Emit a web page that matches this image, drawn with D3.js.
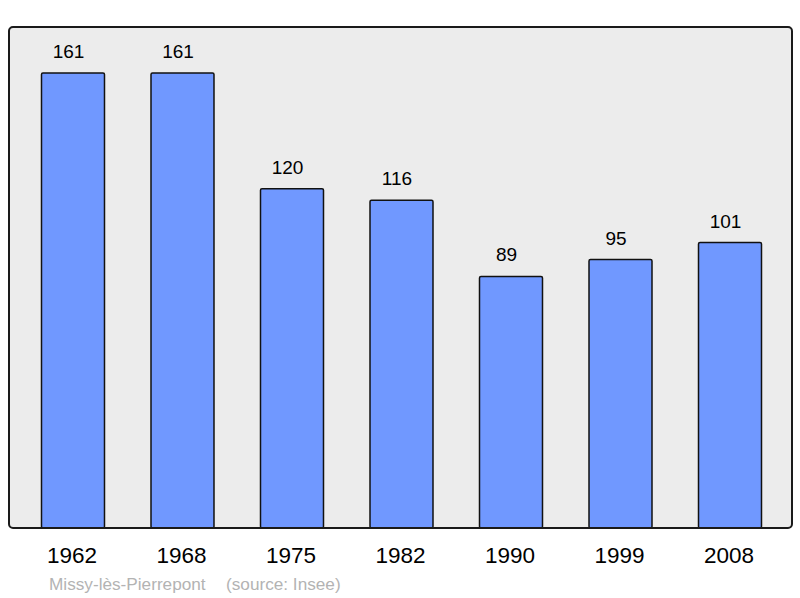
<!DOCTYPE html>
<meta charset="utf-8">
<script src="https://d3js.org/d3.v7.min.js"></script>
<style>body{margin:0;background:#fff}</style>
<svg width=800 height=598></svg>
<script>
const years = ["1962", "1968", "1975", "1982", "1990", "1999", "2008"]
const population = [161, 161, 120, 116, 89, 95, 101]
const commune = "Missy-lès-Pierrepont"
const source = "(source: Insee)"

const svg = d3.select("svg")
const font = "Liberation Sans, Arial, sans-serif"

svg.append("rect")
    .attr("x", 9).attr("y", 27)
    .attr("width", 783).attr("height", 501)
    .attr("rx", 4)
    .attr("fill", "#ececec")

const x = d3.scaleBand()
    .domain(years)
    .range([18.25, 784.75])
    .paddingInner(0.4247)
    .paddingOuter(0.2123)

const y = d3.scaleLinear()
    .domain([0, 161])
    .range([528, 73])

const data = years.map((yr, i) => ({year: yr, value: population[i]}))

svg.append("g")
  .selectAll("rect")
  .data(data)
  .join("rect")
    .attr("x", d => x(d.year))
    .attr("y", d => y(d.value))
    .attr("width", x.bandwidth())
    .attr("height", d => y(0) - y(d.value))
    .attr("rx", 1.5)
    .attr("fill", "#7098ff")
    .attr("stroke", "#111")
    .attr("stroke-width", 1.5)

// value labels sit a bit left of the bar centre in the original
svg.append("g")
  .selectAll("text")
  .data(data)
  .join("text")
    .attr("x", d => x(d.year) + x.bandwidth() / 2 - 4.5)
    .attr("y", d => y(d.value) - 15)
    .attr("text-anchor", "middle")
    .attr("font-family", font)
    .attr("font-size", 19)
    .attr("fill", "#000")
    .text(d => d.value)

const axis = svg.append("g")
    .attr("transform", "translate(0,528)")
    .call(d3.axisBottom(x).tickSize(0).tickPadding(19))
axis.select(".domain").remove()
axis.selectAll("text")
    .attr("dx", -1)
    .attr("font-family", font)
    .attr("font-size", 22.5)
    .attr("fill", "#000")

const cap = svg.append("g")
    .attr("font-family", font)
    .attr("font-size", 17.2)
    .attr("fill", "#b3b3b3")
cap.append("text").attr("x", 49).attr("y", 590).text(commune)
cap.append("text").attr("x", 226).attr("y", 590).text(source)

svg.append("rect")
    .attr("x", 9).attr("y", 27)
    .attr("width", 783).attr("height", 501)
    .attr("rx", 4)
    .attr("fill", "none")
    .attr("stroke", "#1a1a1a")
    .attr("stroke-width", 2)
</script>
